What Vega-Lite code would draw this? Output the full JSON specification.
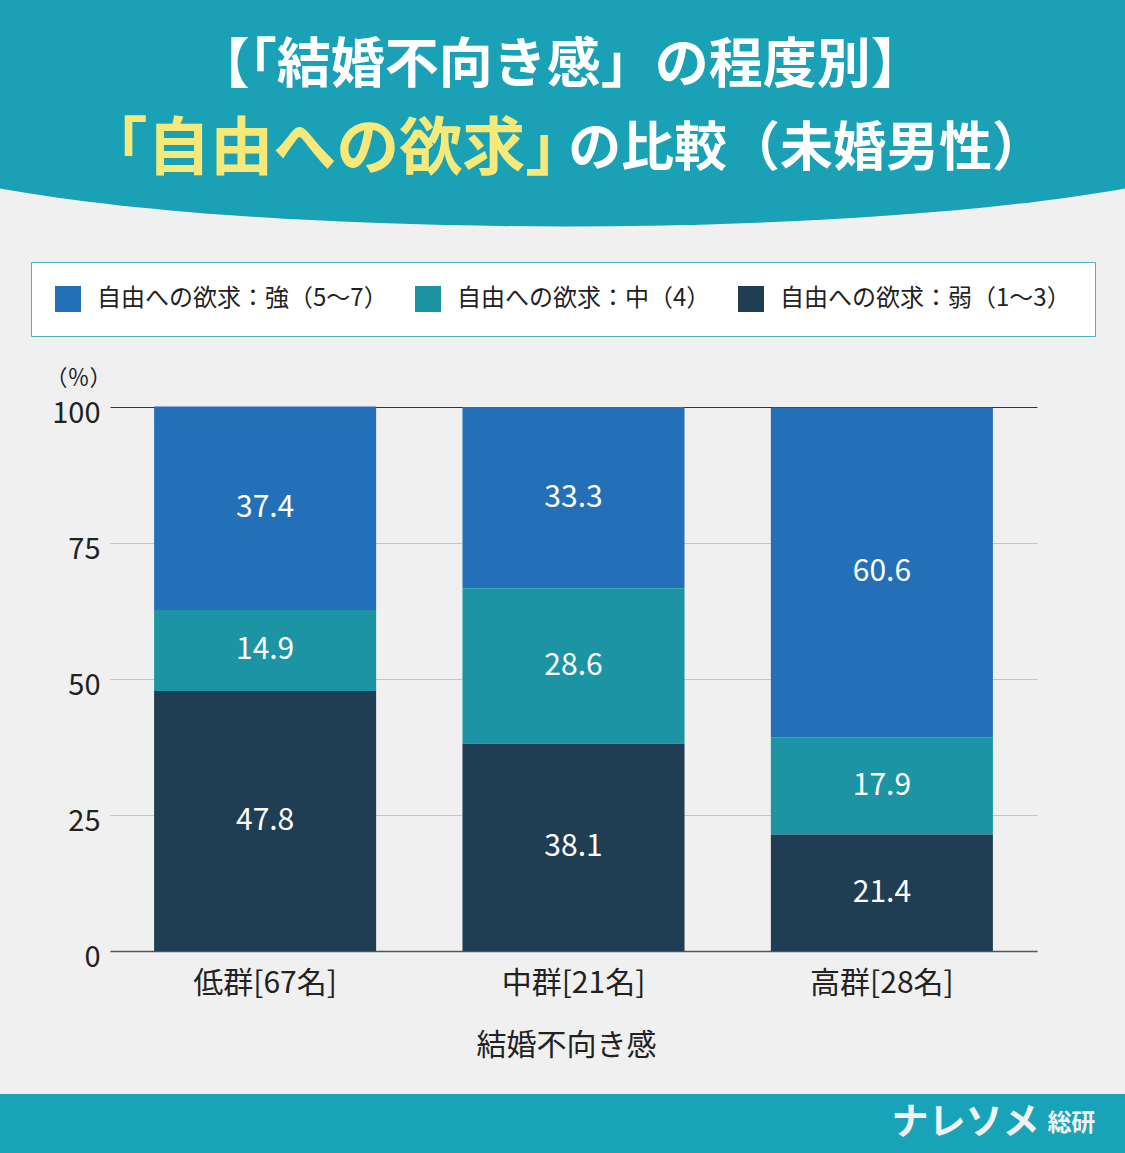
{
  "$schema": "https://vega.github.io/schema/vega-lite/v6.json",
  "background": "#f0f0f0",
  "padding": 0,
  "spacing": 0,
  "bounds": "flush",
  "config": {
    "view": {"stroke": null},
    "font": "Noto Sans CJK JP",
    "text": {"font": "Noto Sans CJK JP"}
  },
  "resolve": {"scale": {"x": "independent", "y": "independent", "color": "independent"}},
  "vconcat": [
    {
      "width": 1125,
      "height": 407,
      "data": {"values": [{}]},
      "layer": [
        {
          "mark": {
            "type": "point",
            "filled": true,
            "opacity": 1,
            "fill": "#1aa1b5",
            "strokeWidth": 0,
            "size": 1265625,
            "shape": "M -1 0 L 1 0 L 1 0.335 C 0.5 0.425 -0.5 0.425 -1 0.335 Z"
          },
          "encoding": {
            "x": {"datum": 50, "type": "quantitative", "scale": {"domain": [0, 100]}, "axis": null},
            "y": {"datum": 0, "type": "quantitative", "scale": {"domain": [0, 100], "reverse": true}, "axis": null}
          }
        },
        {
          "mark": {"type": "text", "text": "【「結婚不向き感」の程度別】", "fontSize": 54, "fontWeight": "bold", "color": "white", "align": "center", "baseline": "middle"},
          "encoding": {
            "x": {"datum": 49.8, "type": "quantitative"},
            "y": {"datum": 16.5, "type": "quantitative"}
          }
        },
        {
          "mark": {"type": "text", "text": "「自由への欲求」", "fontSize": 63, "fontWeight": "bold", "color": "#f6e97a", "align": "right", "baseline": "middle"},
          "encoding": {
            "x": {"datum": 52.3, "type": "quantitative"},
            "y": {"datum": 36.9, "type": "quantitative"}
          }
        },
        {
          "mark": {"type": "text", "text": "の比較（未婚男性）", "fontSize": 53, "fontWeight": "bold", "color": "white", "align": "left", "baseline": "middle"},
          "encoding": {
            "x": {"datum": 50.5, "type": "quantitative"},
            "y": {"datum": 36.9, "type": "quantitative"}
          }
        }
      ]
    },
    {
      "width": 1125,
      "height": 544,
      "data": {
        "values": [
          {"group": "低群[67名]", "level": "自由への欲求：強（5〜7）", "rank": 3, "value": 37.4},
          {"group": "低群[67名]", "level": "自由への欲求：中（4）", "rank": 2, "value": 14.9},
          {"group": "低群[67名]", "level": "自由への欲求：弱（1〜3）", "rank": 1, "value": 47.8},
          {"group": "中群[21名]", "level": "自由への欲求：強（5〜7）", "rank": 3, "value": 33.3},
          {"group": "中群[21名]", "level": "自由への欲求：中（4）", "rank": 2, "value": 28.6},
          {"group": "中群[21名]", "level": "自由への欲求：弱（1〜3）", "rank": 1, "value": 38.1},
          {"group": "高群[28名]", "level": "自由への欲求：強（5〜7）", "rank": 3, "value": 60.6},
          {"group": "高群[28名]", "level": "自由への欲求：中（4）", "rank": 2, "value": 17.9},
          {"group": "高群[28名]", "level": "自由への欲求：弱（1〜3）", "rank": 1, "value": 21.4}
        ]
      },
      "encoding": {
        "x": {
          "field": "group",
          "type": "nominal",
          "sort": null,
          "scale": {"range": [110, 1037], "paddingInner": 0.28, "paddingOuter": 0.143},
          "axis": {
            "title": "結婚不向き感",
            "labelAngle": 0,
            "labelFontSize": 30,
            "labelColor": "#222222",
            "labelPadding": 17,
            "ticks": false,
            "tickSize": 0,
            "domainColor": "#555555",
            "domainWidth": 1.5,
            "titleFontSize": 30,
            "titleFontWeight": "normal",
            "titleColor": "#222222",
            "titlePadding": 32,
            "titleX": 566
          }
        },
        "y": {
          "field": "value",
          "type": "quantitative",
          "stack": "zero",
          "scale": {"domain": [0, 100], "nice": false},
          "axis": {
            "title": "（％）",
            "titleAngle": 0,
            "titleAlign": "center",
            "titleBaseline": "middle",
            "titleX": -32,
            "titleY": -30,
            "titleFontSize": 22,
            "titleFontWeight": "normal",
            "titleColor": "#222222",
            "values": [0, 25, 50, 75, 100],
            "offset": -110,
            "domain": false,
            "ticks": false,
            "tickSize": 0,
            "labelPadding": 10,
            "labelOffset": 6,
            "labelFontSize": 29,
            "labelColor": "#222222",
            "grid": true,
            "gridColor": {"condition": {"test": "datum.value === 100", "value": "#333333"}, "value": "#c4c4c4"},
            "gridWidth": 1
          }
        },
        "order": {"field": "rank", "type": "quantitative"}
      },
      "layer": [
        {
          "mark": {"type": "bar"},
          "encoding": {
            "color": {
              "field": "level",
              "type": "nominal",
              "scale": {
                "domain": ["自由への欲求：強（5〜7）", "自由への欲求：中（4）", "自由への欲求：弱（1〜3）"],
                "range": ["#236fb8", "#1c94a4", "#1f3e53"]
              },
              "legend": {
                "title": null,
                "orient": "none",
                "legendX": 31,
                "legendY": -145,
                "direction": "horizontal",
                "columns": 3,
                "symbolType": "square",
                "symbolSize": 676,
                "symbolStrokeWidth": 0,
                "labelFontSize": 24,
                "labelColor": "#222222",
                "labelLimit": 500,
                "labelOffset": 16,
                "columnPadding": 27,
                "padding": 24,
                "fillColor": "white",
                "strokeColor": "#4db3c4",
                "cornerRadius": 0
              }
            }
          }
        },
        {
          "mark": {"type": "text", "color": "white", "fontSize": 30, "baseline": "middle"},
          "encoding": {
            "y": {"field": "value", "type": "quantitative", "stack": "zero", "bandPosition": 0.5},
            "detail": {"field": "level"},
            "text": {"field": "value", "type": "quantitative", "format": ".1f"}
          }
        }
      ]
    },
    {
      "width": 1125,
      "height": 202,
      "data": {"values": [{}]},
      "layer": [
        {
          "mark": {"type": "rect", "color": "#18a3b8"},
          "encoding": {
            "x": {"datum": 0, "type": "quantitative", "scale": {"domain": [0, 100]}, "axis": null},
            "x2": {"datum": 100},
            "y": {"datum": 0, "type": "quantitative", "scale": {"domain": [0, 100]}, "axis": null},
            "y2": {"datum": 29.2}
          }
        },
        {
          "mark": {"type": "text", "text": "ナレソメ", "fontSize": 37, "fontWeight": "bold", "color": "#f2f2f2", "align": "right", "baseline": "middle"},
          "encoding": {
            "x": {"datum": 92.4, "type": "quantitative"},
            "y": {"datum": 14.6, "type": "quantitative"}
          }
        },
        {
          "mark": {"type": "text", "text": "総研", "fontSize": 24, "fontWeight": "bold", "color": "#f2f2f2", "align": "left", "baseline": "middle"},
          "encoding": {
            "x": {"datum": 93.1, "type": "quantitative"},
            "y": {"datum": 14.6, "type": "quantitative"}
          }
        }
      ]
    }
  ]
}
